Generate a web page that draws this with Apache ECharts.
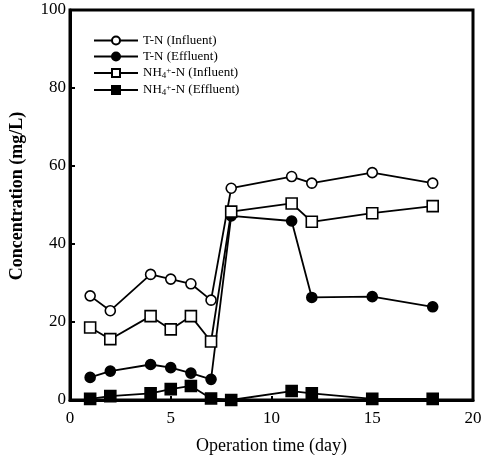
<!DOCTYPE html>
<html>
<head>
<meta charset="utf-8">
<script src="https://cdn.jsdelivr.net/npm/echarts@6/dist/echarts.min.js"></script>
<style>
  html, body { margin: 0; padding: 0; background: #fff; }
  #chart { width: 489px; height: 468px; }
</style>
</head>
<body>
<div id="chart"></div>
<script>
// Operation days sampled
const days = [1, 2, 4, 5, 6, 7, 8, 11, 12, 15, 18];

// Concentrations (mg/L)
const tnInfluent   = [26.7, 22.9, 32.2, 31.0, 29.8, 25.6, 54.3, 57.3, 55.6, 58.3, 55.6];
const tnEffluent   = [5.8, 7.4, 9.1, 8.3, 6.9, 5.3, 47.2, 45.9, 26.3, 26.5, 23.9];
const nh4Influent  = [18.6, 15.6, 21.5, 18.1, 21.5, 15.0, 48.3, 50.4, 45.7, 47.9, 49.7];
const nh4Effluent  = [0.3, 1.0, 1.7, 2.8, 3.6, 0.4, 0.0, 2.3, 1.7, 0.3, 0.3];

const xTicks = [0, 5, 10, 15, 20];
const yTicks = [0, 20, 40, 60, 80, 100];

const FONT = '"Liberation Serif", "DejaVu Serif", serif';

function pairs(vals) {
  return days.map((d, i) => [d, vals[i]]);
}

function makeSeries(name, vals, symbol, filled) {
  return {
    name: name,
    type: 'line',
    data: pairs(vals),
    symbol: symbol,
    symbolSize: symbol === 'circle' ? 10 : 11,
    showAllSymbol: true,
    lineStyle: { color: '#000', width: 1.8 },
    itemStyle: { color: filled ? '#000' : '#fff', borderColor: '#000', borderWidth: 1.6 },
    emphasis: { disabled: true },
    animation: false
  };
}

const chart = echarts.init(document.getElementById('chart'), null, { renderer: 'canvas' });

chart.setOption({
  backgroundColor: '#fff',
  animation: false,
  grid: { left: 70, right: 16, top: 10, bottom: 68, show: true, borderColor: '#000', borderWidth: 3 },
  legend: {
    left: 93,
    top: 34,
    padding: 0,
    orient: 'vertical',
    itemWidth: 44,
    itemHeight: 10,
    itemGap: 3,
    selectedMode: false,
    textStyle: {
      fontFamily: FONT, fontSize: 13, color: '#000',
      rich: {
        n: { fontFamily: FONT, fontSize: 13, color: '#000' },
        sub: { fontFamily: FONT, fontSize: 9, color: '#000', verticalAlign: 'bottom', padding: [5, 0, 0, 0] },
        sup: { fontFamily: FONT, fontSize: 9, color: '#000', verticalAlign: 'top', padding: [0, 0, 5, 0] }
      }
    },
    formatter: function (name) {
      if (name.indexOf('NH4+') === 0) {
        return '{n|NH}{sub|4}{sup|+}{n|' + name.slice(4) + '}';
      }
      return name;
    },
    data: ['T-N (Influent)', 'T-N (Effluent)', 'NH4+-N (Influent)', 'NH4+-N (Effluent)']
  },
  xAxis: {
    type: 'value',
    min: 0, max: 20, interval: 5,
    name: 'Operation time (day)',
    nameLocation: 'middle',
    nameGap: 37,
    nameTextStyle: { fontFamily: FONT, fontSize: 18, color: '#000' },
    axisLine: { show: true, lineStyle: { color: '#000', width: 3 } },
    axisTick: { show: true, inside: true, length: 4, lineStyle: { color: '#000', width: 2 } },
    splitLine: { show: false },
    axisLabel: {
      fontFamily: FONT, fontSize: 17, color: '#000', margin: 10,
      formatter: v => xTicks.includes(v) ? String(v) : ''
    }
  },
  yAxis: {
    type: 'value',
    min: 0, max: 100, interval: 20,
    name: 'Concentration (mg/L)',
    nameLocation: 'middle',
    nameGap: 44,
    nameTextStyle: { fontFamily: FONT, fontSize: 18, fontWeight: 'bold', color: '#000', padding: [0, 0, 0, 18] },
    axisLine: { show: true, lineStyle: { color: '#000', width: 3 } },
    axisTick: { show: true, inside: true, length: 5, lineStyle: { color: '#000', width: 2 } },
    splitLine: { show: false },
    axisLabel: {
      fontFamily: FONT, fontSize: 17, color: '#000', margin: 4,
      formatter: v => yTicks.includes(v) ? String(v) : ''
    }
  },
  series: [
    makeSeries('T-N (Influent)', tnInfluent, 'circle', false),
    makeSeries('T-N (Effluent)', tnEffluent, 'circle', true),
    makeSeries('NH4+-N (Influent)', nh4Influent, 'rect', false),
    makeSeries('NH4+-N (Effluent)', nh4Effluent, 'rect', true)
  ]
});
</script>
</body>
</html>
